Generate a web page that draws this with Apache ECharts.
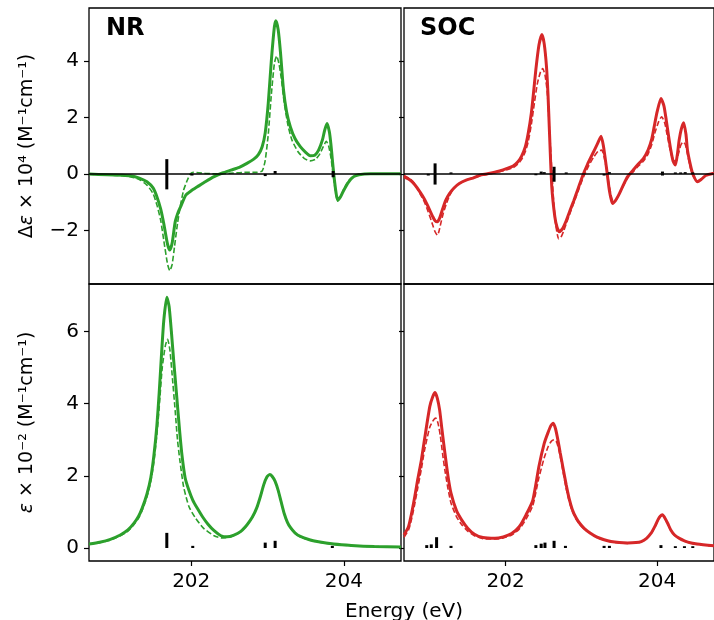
<!DOCTYPE html>
<html>
<head>
<meta charset="utf-8">
<script src="https://cdn.jsdelivr.net/npm/echarts@6/dist/echarts.min.js"></script>
<style>
  html, body { margin: 0; padding: 0; background: #fff; }
  #chart { width: 714px; height: 620px; }
</style>
</head>
<body>
<div id="chart"></div>
<script>
// [energy (eV), value] pairs
const nrCdFull = [
  [200.66, -0.01], [200.9, -0.03], [201.1, -0.05], [201.2, -0.07], [201.32, -0.15],
  [201.42, -0.28], [201.5, -0.5], [201.55, -0.81], [201.6, -1.25], [201.64, -1.76],
  [201.69, -2.5], [201.72, -2.7], [201.75, -2.45], [201.79, -1.7], [201.83, -1.35],
  [201.86, -1.17], [201.93, -0.75], [202.0, -0.6], [202.08, -0.46], [202.19, -0.27],
  [202.3, -0.1], [202.41, 0.03], [202.52, 0.13], [202.63, 0.23], [202.73, 0.37],
  [202.82, 0.52], [202.88, 0.68], [202.93, 0.96], [202.97, 1.45], [203.01, 2.5],
  [203.05, 4.0], [203.09, 5.2], [203.11, 5.42], [203.14, 5.1], [203.17, 4.3],
  [203.21, 2.96], [203.25, 2.2], [203.3, 1.66], [203.36, 1.25], [203.43, 0.96],
  [203.5, 0.76], [203.56, 0.64], [203.62, 0.66], [203.67, 0.84], [203.72, 1.2],
  [203.75, 1.55], [203.78, 1.78], [203.81, 1.5], [203.83, 1.08], [203.85, 0.5],
  [203.87, -0.05], [203.9, -0.7], [203.92, -0.93], [203.96, -0.8], [204.0, -0.58],
  [204.06, -0.3], [204.13, -0.1], [204.2, -0.03], [204.35, 0], [204.75, 0]
];
const nrCdPartial = [
  [200.66, -0.01], [200.9, -0.04], [201.1, -0.07], [201.2, -0.1], [201.32, -0.2],
  [201.42, -0.4], [201.5, -0.7], [201.55, -1.1], [201.6, -1.65], [201.64, -2.35],
  [201.69, -3.2], [201.72, -3.43], [201.75, -3.2], [201.78, -2.6], [201.82, -1.76],
  [201.86, -1.1], [201.9, -0.58], [201.95, -0.22], [201.99, 0.0], [202.03, 0.05],
  [202.1, 0.04], [202.2, 0.01], [202.35, 0.0], [202.5, 0.02], [202.7, 0.05],
  [202.85, 0.05], [202.93, 0.1], [202.97, 0.48], [203.01, 1.4], [203.05, 2.8],
  [203.09, 3.9], [203.12, 4.17], [203.15, 3.9], [203.18, 3.4], [203.22, 2.5],
  [203.27, 1.7], [203.32, 1.2], [203.4, 0.78], [203.48, 0.55], [203.56, 0.46],
  [203.63, 0.52], [203.68, 0.68], [203.73, 0.95], [203.77, 1.15], [203.8, 1.0],
  [203.83, 0.6], [203.86, 0.0], [203.89, -0.6], [203.92, -0.97], [203.96, -0.8],
  [204.0, -0.55], [204.06, -0.25], [204.13, -0.08], [204.2, -0.02], [204.35, 0], [204.75, 0]
];
const nrAbsFull = [
  [200.66, 0.11], [200.8, 0.16], [200.94, 0.24], [201.07, 0.36], [201.17, 0.5],
  [201.25, 0.69], [201.31, 0.88], [201.36, 1.12], [201.42, 1.5], [201.47, 1.95],
  [201.51, 2.55], [201.55, 3.4], [201.58, 4.3], [201.61, 5.35], [201.64, 6.3],
  [201.68, 6.95], [201.71, 6.7], [201.74, 6.0], [201.77, 5.2], [201.81, 4.2],
  [201.85, 3.2], [201.88, 2.55], [201.92, 1.95], [201.97, 1.6], [202.02, 1.33],
  [202.08, 1.1], [202.15, 0.86], [202.22, 0.66], [202.3, 0.48], [202.39, 0.34],
  [202.47, 0.31], [202.56, 0.36], [202.65, 0.46], [202.73, 0.64], [202.8, 0.85],
  [202.86, 1.12], [202.91, 1.45], [202.95, 1.75], [202.99, 1.96], [203.03, 2.04],
  [203.06, 1.99], [203.1, 1.85], [203.14, 1.6], [203.18, 1.27], [203.22, 0.95],
  [203.26, 0.72], [203.3, 0.57], [203.36, 0.42], [203.43, 0.32], [203.55, 0.23],
  [203.65, 0.18], [203.87, 0.11], [204.1, 0.07], [204.4, 0.04], [204.75, 0.03]
];
const nrAbsPartial = [
  [200.66, 0.1], [200.8, 0.15], [200.94, 0.22], [201.07, 0.34], [201.17, 0.47],
  [201.25, 0.65], [201.31, 0.83], [201.36, 1.06], [201.42, 1.42], [201.47, 1.85],
  [201.51, 2.38], [201.55, 3.15], [201.58, 3.9], [201.62, 5.0], [201.66, 5.6],
  [201.69, 5.79], [201.72, 5.5], [201.75, 4.8], [201.79, 3.8], [201.82, 3.0],
  [201.85, 2.45], [201.9, 1.7], [201.97, 1.15], [202.05, 0.85], [202.16, 0.55],
  [202.3, 0.34], [202.4, 0.28], [202.5, 0.3], [202.56, 0.35], [202.65, 0.45],
  [202.73, 0.63], [202.8, 0.84], [202.86, 1.11], [202.91, 1.44], [202.95, 1.74],
  [202.99, 1.95], [203.03, 2.03], [203.06, 1.98], [203.1, 1.84], [203.14, 1.59],
  [203.18, 1.26], [203.22, 0.94], [203.26, 0.71], [203.3, 0.56], [203.36, 0.41],
  [203.43, 0.31], [203.55, 0.22], [203.65, 0.17], [203.87, 0.1], [204.1, 0.06],
  [204.4, 0.04], [204.75, 0.03]
];
const socCdFull = [
  [200.66, -0.1], [200.74, -0.22], [200.8, -0.38], [200.87, -0.64], [200.93, -0.9],
  [200.98, -1.17], [201.04, -1.52], [201.07, -1.66], [201.1, -1.7], [201.13, -1.57],
  [201.17, -1.24], [201.21, -0.94], [201.26, -0.7], [201.32, -0.5], [201.39, -0.34],
  [201.48, -0.22], [201.57, -0.15], [201.66, -0.05], [201.76, 0.0], [201.92, 0.1],
  [202.03, 0.2], [202.1, 0.28], [202.16, 0.42], [202.21, 0.62], [202.26, 0.95],
  [202.3, 1.45], [202.34, 2.15], [202.37, 2.9], [202.4, 3.7], [202.44, 4.55],
  [202.48, 4.93], [202.51, 4.6], [202.54, 3.79], [202.56, 2.8], [202.58, 1.43],
  [202.61, -0.46], [202.65, -1.52], [202.68, -1.9], [202.71, -2.05], [202.75, -1.95],
  [202.8, -1.66], [202.85, -1.3], [202.9, -0.95], [202.96, -0.5], [203.02, -0.05],
  [203.08, 0.33], [203.15, 0.72], [203.21, 1.05], [203.26, 1.33], [203.29, 1.0],
  [203.33, 0.24], [203.37, -0.59], [203.41, -1.05], [203.45, -0.95], [203.5, -0.71],
  [203.55, -0.42], [203.61, -0.1], [203.68, 0.12], [203.74, 0.31], [203.82, 0.55],
  [203.88, 0.84], [203.93, 1.25], [203.96, 1.66], [204.0, 2.2], [204.05, 2.67],
  [204.09, 2.4], [204.12, 1.9], [204.15, 1.35], [204.18, 0.84], [204.21, 0.45],
  [204.24, 0.31], [204.27, 0.75], [204.29, 1.19], [204.32, 1.6], [204.35, 1.81],
  [204.38, 1.4], [204.4, 0.84], [204.44, 0.3], [204.47, 0.0], [204.53, -0.28],
  [204.58, -0.2], [204.64, -0.06], [204.75, 0.02]
];
const socCdPartial = [
  [200.66, -0.06], [200.74, -0.18], [200.8, -0.35], [200.87, -0.7], [200.93, -1.0],
  [200.98, -1.35], [201.04, -1.82], [201.07, -2.05], [201.1, -2.17], [201.12, -2.05],
  [201.15, -1.7], [201.18, -1.38], [201.22, -1.05], [201.26, -0.78], [201.3, -0.58],
  [201.36, -0.4], [201.44, -0.27], [201.55, -0.16], [201.7, -0.05], [201.86, 0.04],
  [202.03, 0.15], [202.1, 0.22], [202.16, 0.34], [202.21, 0.5], [202.26, 0.78],
  [202.3, 1.15], [202.34, 1.75], [202.38, 2.5], [202.42, 3.2], [202.46, 3.6],
  [202.49, 3.73], [202.52, 3.5], [202.55, 2.9], [202.57, 2.0], [202.6, 0.6],
  [202.63, -0.8], [202.66, -1.75], [202.7, -2.3], [202.73, -2.25], [202.77, -2.0],
  [202.81, -1.7], [202.86, -1.32], [202.91, -0.96], [202.97, -0.52], [203.03, -0.1],
  [203.1, 0.3], [203.16, 0.58], [203.22, 0.8], [203.27, 0.84], [203.3, 0.6],
  [203.34, 0.05], [203.38, -0.6], [203.42, -0.98], [203.46, -0.92], [203.5, -0.72],
  [203.55, -0.45], [203.61, -0.15], [203.68, 0.06], [203.74, 0.24], [203.82, 0.45],
  [203.88, 0.7], [203.93, 1.05], [203.97, 1.45], [204.02, 1.85], [204.06, 2.02],
  [204.1, 1.8], [204.13, 1.4], [204.16, 1.0], [204.19, 0.65], [204.22, 0.48],
  [204.25, 0.45], [204.28, 0.7], [204.31, 1.0], [204.34, 1.12], [204.37, 1.05],
  [204.4, 0.7], [204.44, 0.2], [204.48, -0.1], [204.53, -0.25], [204.58, -0.18],
  [204.64, -0.05], [204.75, 0.02]
];
const socAbsFull = [
  [200.66, 0.36], [200.72, 0.6], [200.76, 0.96], [200.8, 1.4], [200.84, 1.89],
  [200.89, 2.45], [200.93, 3.0], [201.0, 3.92], [201.04, 4.2], [201.07, 4.31],
  [201.1, 4.15], [201.13, 3.83], [201.16, 3.3], [201.2, 2.63], [201.24, 2.0],
  [201.28, 1.52], [201.35, 1.05], [201.42, 0.78], [201.5, 0.55], [201.59, 0.38],
  [201.7, 0.29], [201.86, 0.27], [201.97, 0.31], [202.08, 0.4], [202.18, 0.59],
  [202.27, 0.92], [202.36, 1.33], [202.44, 2.26], [202.51, 2.9], [202.56, 3.2],
  [202.6, 3.4], [202.63, 3.46], [202.66, 3.3], [202.69, 3.0], [202.72, 2.65],
  [202.76, 2.2], [202.8, 1.75], [202.84, 1.36], [202.88, 1.07], [202.93, 0.84],
  [202.98, 0.68], [203.04, 0.54], [203.12, 0.41], [203.2, 0.31], [203.3, 0.23],
  [203.39, 0.18], [203.5, 0.15], [203.61, 0.14], [203.72, 0.15], [203.79, 0.18],
  [203.86, 0.27], [203.92, 0.41], [203.97, 0.6], [204.01, 0.78], [204.04, 0.88],
  [204.07, 0.92], [204.1, 0.84], [204.14, 0.68], [204.18, 0.5], [204.23, 0.36],
  [204.3, 0.26], [204.36, 0.2], [204.45, 0.14], [204.53, 0.11], [204.75, 0.06]
];
const socAbsPartial = [
  [200.66, 0.3], [200.72, 0.5], [200.76, 0.8], [200.8, 1.2], [200.84, 1.65],
  [200.89, 2.2], [200.93, 2.7], [201.0, 3.35], [201.05, 3.55], [201.08, 3.6],
  [201.11, 3.45], [201.14, 3.1], [201.17, 2.6], [201.2, 2.15], [201.24, 1.65],
  [201.28, 1.25], [201.35, 0.88], [201.42, 0.65], [201.5, 0.47], [201.59, 0.34],
  [201.7, 0.26], [201.86, 0.25], [201.97, 0.28], [202.08, 0.36], [202.18, 0.52],
  [202.27, 0.8], [202.36, 1.18], [202.44, 1.95], [202.51, 2.5], [202.56, 2.8],
  [202.6, 2.95], [202.64, 3.0], [202.67, 2.95], [202.7, 2.75], [202.73, 2.45],
  [202.76, 2.1], [202.8, 1.65], [202.84, 1.29], [202.88, 1.02], [202.93, 0.8],
  [202.98, 0.65], [203.04, 0.52], [203.12, 0.4], [203.2, 0.3], [203.3, 0.22],
  [203.39, 0.17], [203.5, 0.14], [203.61, 0.13], [203.72, 0.14], [203.79, 0.17],
  [203.86, 0.26], [203.92, 0.4], [203.97, 0.58], [204.01, 0.76], [204.04, 0.86],
  [204.07, 0.9], [204.1, 0.82], [204.14, 0.66], [204.18, 0.49], [204.23, 0.35],
  [204.3, 0.25], [204.36, 0.19], [204.45, 0.13], [204.53, 0.1], [204.75, 0.05]
];

// stick spectra (black bars)
const nrCdSticks = [
  [201.68, 0.52], [201.68, -0.55], [202.01, -0.06], [202.97, -0.08],
  [203.1, 0.1], [203.86, 0.1], [203.86, -0.12]
];
const nrAbsSticks = [
  [201.68, 0.42], [202.02, 0.06], [202.97, 0.15], [203.1, 0.2], [203.85, 0.06]
];
const socCdSticks = [
  [200.98, -0.06], [201.07, 0.37], [201.07, -0.38], [201.28, 0.05],
  [202.4, -0.05], [202.47, 0.08], [202.51, 0.06], [202.64, 0.25], [202.64, -0.28],
  [202.8, 0.05], [203.3, -0.06], [203.37, 0.06], [204.07, 0.08], [204.07, -0.06],
  [204.24, 0.05], [204.31, 0.05], [204.37, 0.06], [204.47, 0.05]
];
const socAbsSticks = [
  [200.96, 0.08], [201.02, 0.1], [201.09, 0.3], [201.28, 0.06],
  [202.4, 0.08], [202.47, 0.12], [202.52, 0.15], [202.64, 0.2], [202.79, 0.06],
  [203.3, 0.06], [203.37, 0.06], [204.05, 0.08], [204.24, 0.05], [204.36, 0.05], [204.47, 0.05]
];

const xTicks = [202, 204];
const cdTicks = [-2, 0, 2, 4];
const absTicks = [0, 2, 4, 6];

const GREEN = "#2ca02c";
const RED = "#d62728";
const FONT = "DejaVu Sans";

const chart = echarts.init(document.getElementById("chart"), null, { renderer: "canvas" });

const grids = [
  { left: 89, top: 8, width: 312, height: 276 },
  { left: 404, top: 8, width: 312, height: 276 },
  { left: 89, top: 284, width: 312, height: 277 },
  { left: 404, top: 284, width: 312, height: 277 },
].map((g) => ({ ...g, show: true, borderColor: "#000", borderWidth: 1.3, backgroundColor: "transparent" }));

const minus = (v) => String(v).replace("-", "\u2212");

function xAxis(i, bottom) {
  return {
    type: "value", gridIndex: i, min: 200.66, max: 204.75,
    axisLine: { show: false, onZero: false }, splitLine: { show: false },
    axisTick: { show: bottom, customValues: xTicks, length: 5, lineStyle: { color: "#000", width: 1.2 } },
    axisLabel: { show: bottom, customValues: xTicks, fontSize: 20, fontFamily: FONT, color: "#000", margin: 11 },
  };
}

function yAxis(i, top, left) {
  const name = top
    ? "{r|\u0394}{i|\u03b5}{r| \u00d7 10\u2074 (M\u207b\u00b9cm\u207b\u00b9)}"
    : "{i|\u03b5}{r| \u00d7 10\u207b\u00b2 (M\u207b\u00b9cm\u207b\u00b9)}";
  return {
    type: "value", gridIndex: i,
    min: top ? -3.9 : -0.36, max: top ? 5.87 : 7.32,
    axisLine: { show: false, onZero: false }, splitLine: { show: false },
    axisTick: { show: true, customValues: top ? cdTicks : absTicks, length: 5, lineStyle: { color: "#000", width: 1.2 } },
    axisLabel: { show: left, customValues: top ? cdTicks : absTicks, fontSize: 20, fontFamily: FONT, color: "#000", margin: 10, formatter: minus },
    name: left ? name : "",
    nameLocation: "middle", nameRotate: 90, nameGap: 52,
    nameTextStyle: {
      rich: {
        r: { fontSize: 19, fontFamily: FONT, color: "#000" },
        i: { fontSize: 19, fontFamily: FONT, color: "#000", fontStyle: "italic" },
      },
    },
  };
}

function curve(i, data, color, dashed) {
  return {
    type: "line", xAxisIndex: i, yAxisIndex: i, data: data,
    showSymbol: false, smooth: 0.2, z: 2, silent: true,
    lineStyle: { color: color, width: dashed ? 1.6 : 3, type: dashed ? [5.5, 2.5] : "solid" },
  };
}

function sticks(i, data, zeroLine) {
  const s = {
    type: "bar", xAxisIndex: i, yAxisIndex: i, data: data,
    barWidth: 3, itemStyle: { color: "#000" }, z: 4, silent: true,
  };
  if (zeroLine) {
    s.markLine = {
      silent: true, symbol: ["none", "none"], label: { show: false },
      lineStyle: { color: "#000", width: 1.5, type: "solid" },
      data: [{ yAxis: 0 }],
    };
  }
  return s;
}

const option = {
  animation: false,
  backgroundColor: "#fff",
  textStyle: { fontFamily: FONT },
  grid: grids,
  xAxis: [xAxis(0, false), xAxis(1, false), xAxis(2, true), xAxis(3, true)],
  yAxis: [yAxis(0, true, true), yAxis(1, true, false), yAxis(2, false, true), yAxis(3, false, false)],
  series: [
    curve(0, nrCdPartial, GREEN, true),
    curve(0, nrCdFull, GREEN, false),
    sticks(0, nrCdSticks, true),
    curve(1, socCdPartial, RED, true),
    curve(1, socCdFull, RED, false),
    sticks(1, socCdSticks, true),
    curve(2, nrAbsPartial, GREEN, true),
    curve(2, nrAbsFull, GREEN, false),
    sticks(2, nrAbsSticks, false),
    curve(3, socAbsPartial, RED, true),
    curve(3, socAbsFull, RED, false),
    sticks(3, socAbsSticks, false),
  ],
  graphic: [
    { type: "text", left: 106, top: 17, style: { text: "NR", fontSize: 24, fontWeight: "bold", fontFamily: FONT, fill: "#000" } },
    { type: "text", left: 420, top: 17, style: { text: "SOC", fontSize: 24, fontWeight: "bold", fontFamily: FONT, fill: "#000" } },
    { type: "text", x: 404, y: 602, style: { text: "Energy (eV)", fontSize: 20, fontFamily: FONT, fill: "#000", align: "center", verticalAlign: "top" } },
  ],
};

chart.setOption(option);
</script>
</body>
</html>
